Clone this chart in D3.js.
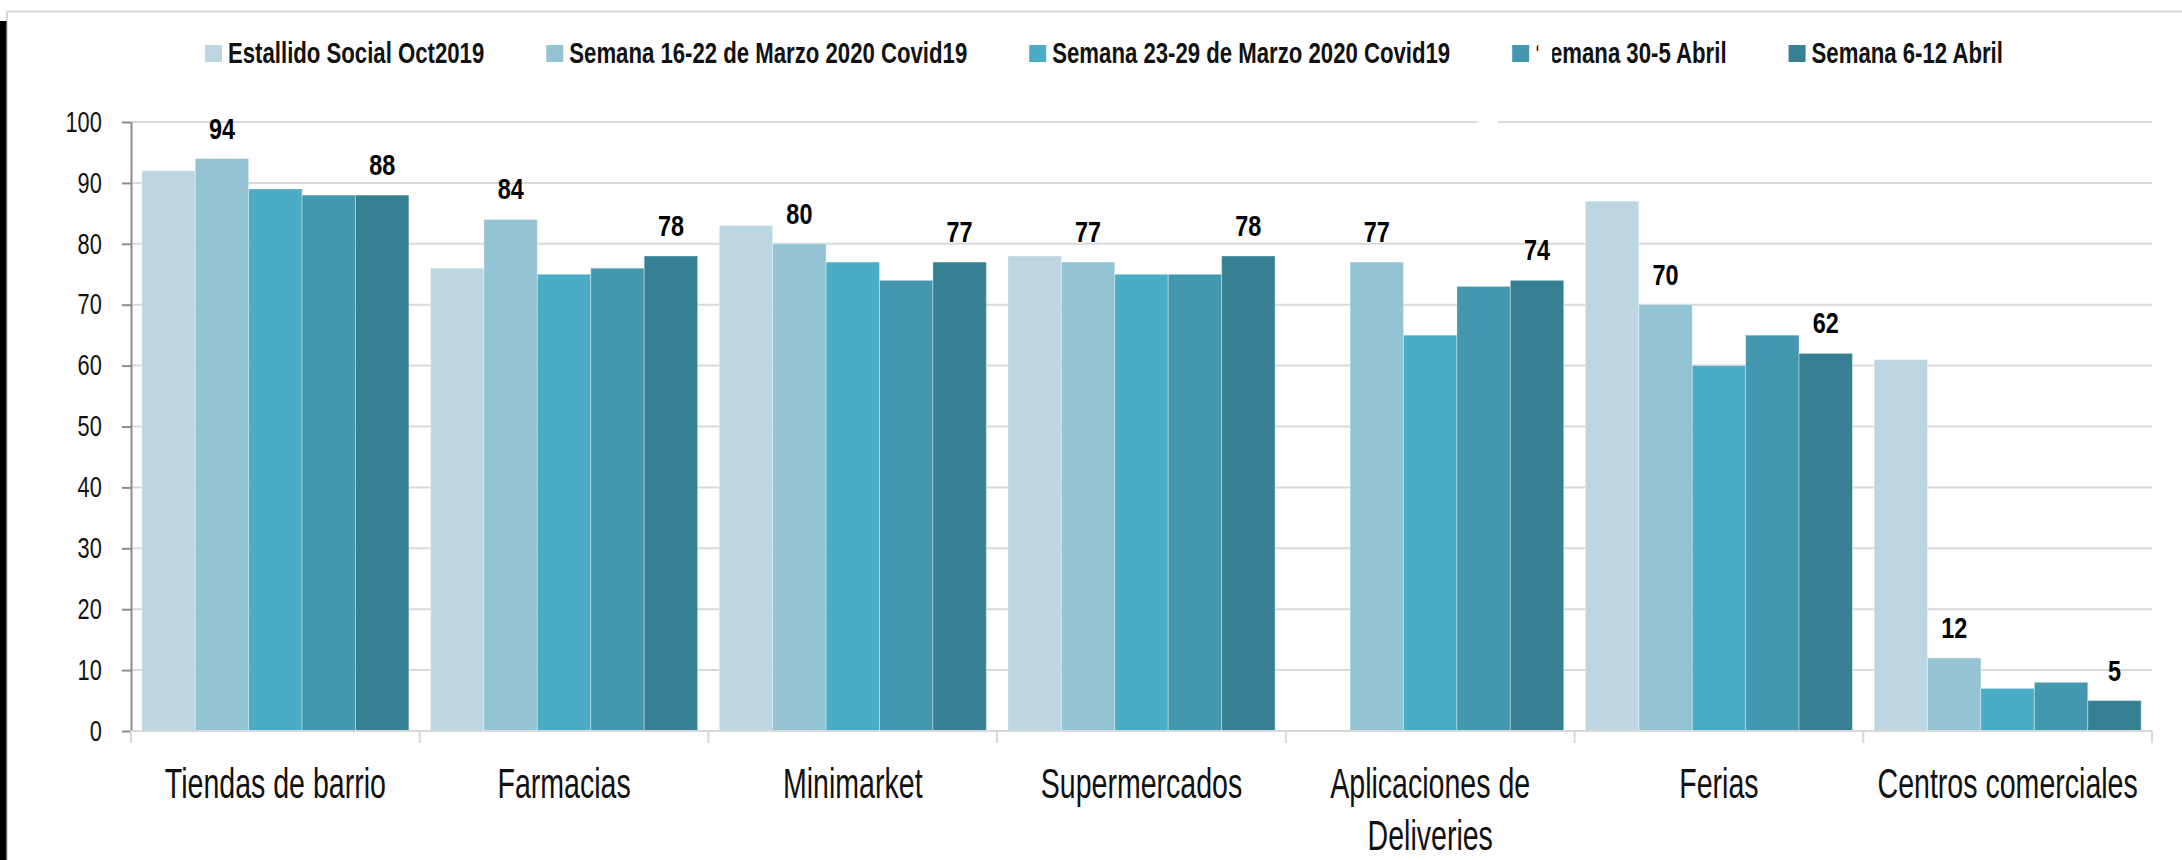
<!DOCTYPE html>
<head>
<meta charset="utf-8">
<script src="https://d3js.org/d3.v7.min.js"></script>
<style>
  body { margin: 0; background: #fff; }
  svg { display: block; }
  text { font-family: "Liberation Sans Narrow", "Liberation Sans", Arial, sans-serif; fill: #111; }
  .legend text { font-weight: bold; font-size: 29px; }
  .value { font-weight: bold; font-size: 30px; text-anchor: middle; fill: #000; }
  .yaxis text { font-size: 29px; }
  .cat text { font-size: 42px; }
</style>
</head>
<body>
<div id="chart"></div>
<script>
// data
var categories = ["Tiendas de barrio", "Farmacias", "Minimarket", "Supermercados",
                  "Aplicaciones de Deliveries", "Ferias", "Centros comerciales"];
var seriesNames = ["Estallido Social Oct2019", "Semana 16-22 de Marzo 2020 Covid19",
                   "Semana 23-29 de Marzo 2020 Covid19", "Semana 30-5 Abril", "Semana 6-12 Abril"];
var estallido  = [92, 76, 83, 78, null, 87, 61];
var semana1622 = [94, 84, 80, 77, 77, 70, 12];
var semana2329 = [89, 75, 77, 75, 65, 60, 7];
var semana305  = [88, 76, 74, 75, 73, 65, 8];
var semana612  = [88, 78, 77, 78, 74, 62, 5];
var yTicks = [0, 10, 20, 30, 40, 50, 60, 70, 80, 90, 100];
var labelledSeries = [1, 4];   // only these series carry value labels

var seriesValues = [estallido, semana1622, semana2329, semana305, semana612];
var colors = ["#bdd7e2", "#94c3d4", "#4bacc6", "#4398b0", "#378094"];

var width = 2182, height = 860;
var plotLeft = 131, plotRight = 2152, plotTop = 122, plotBottom = 731;

// the source font is a condensed face; squeeze the installed sans horizontally
var sxLegend = 0.765, sxValue = 0.78, sxY = 0.75, sxCat = 0.68;

var svg = d3.select("#chart").append("svg")
    .attr("width", width)
    .attr("height", height);

// frame and the black strip on the left
svg.append("path")
    .attr("d", "M7,860 V11.5 H" + width)
    .attr("fill", "none")
    .attr("stroke", "#d9d9d9")
    .attr("stroke-width", 2);
svg.append("rect")
    .attr("x", 0).attr("y", 21)
    .attr("width", 6.5).attr("height", height - 21)
    .attr("fill", "#000");

var x0 = d3.scaleBand()
    .domain(categories)
    .range([plotLeft, plotRight])
    .paddingInner(0.075)
    .paddingOuter(0.0375);

var x1 = d3.scaleBand()
    .domain(d3.range(seriesNames.length))
    .range([0, x0.bandwidth()]);

var y = d3.scaleLinear()
    .domain([0, 100])
    .range([plotBottom, plotTop]);

// gridlines
svg.append("g")
    .selectAll("line")
    .data(yTicks)
    .join("line")
    .attr("x1", plotLeft).attr("x2", plotRight)
    .attr("y1", function (d) { return y(d); })
    .attr("y2", function (d) { return y(d); })
    .attr("stroke", "#d9d9d9")
    .attr("stroke-width", 2);

// small break in the top gridline, as in the source image
svg.append("rect")
    .attr("x", 1477).attr("y", y(100) - 4)
    .attr("width", 21).attr("height", 8)
    .attr("fill", "#fff");

// bars
var rows = categories.map(function (c, i) {
    return { cat: c, vals: seriesValues.map(function (s) { return s[i]; }) };
});

var groups = svg.append("g")
    .selectAll("g")
    .data(rows)
    .join("g")
    .attr("transform", function (d) { return "translate(" + x0(d.cat) + ",0)"; });

groups.selectAll("rect")
    .data(function (d) {
        return d.vals.map(function (v, k) { return { k: k, v: v }; })
            .filter(function (e) { return e.v != null; });
    })
    .join("rect")
    .attr("x", function (d) { return x1(d.k); })
    .attr("y", function (d) { return y(d.v); })
    .attr("width", x1.bandwidth())
    .attr("height", function (d) { return y(0) - y(d.v); })
    .attr("fill", function (d) { return colors[d.k]; })
    .attr("stroke", "#fff")
    .attr("stroke-opacity", 0.35)
    .attr("stroke-width", 1);

groups.selectAll("text.value")
    .data(function (d) {
        return labelledSeries.map(function (k) { return { k: k, v: d.vals[k] }; });
    })
    .join("text")
    .attr("class", "value")
    .attr("transform", function (d) {
        return "translate(" + (x1(d.k) + x1.bandwidth() / 2) + "," + (y(d.v) - 20) + ") scale(" + sxValue + ",1)";
    })
    .text(function (d) { return d.v; });

// y axis
var yAxis = d3.axisLeft(y)
    .tickValues(yTicks)
    .tickSize(9)
    .tickSizeOuter(0)
    .tickPadding(30);

var ya = svg.append("g")
    .attr("class", "yaxis")
    .attr("transform", "translate(" + plotLeft + ",0)")
    .call(yAxis);
ya.select(".domain").attr("stroke", "#8c8c8c").attr("stroke-width", 2);
ya.selectAll(".tick line").attr("stroke", "#8c8c8c").attr("stroke-width", 2);
ya.selectAll(".tick text")
    .attr("fill", "#111")
    .attr("transform", "scale(" + sxY + ",1)");

// x axis line and category boundary ticks
var bounds = d3.range(categories.length + 1).map(function (i) { return plotLeft + i * x0.step(); });
svg.append("line")
    .attr("x1", plotLeft).attr("x2", plotRight)
    .attr("y1", plotBottom).attr("y2", plotBottom)
    .attr("stroke", "#d9d9d9").attr("stroke-width", 2);
svg.append("g")
    .selectAll("line")
    .data(bounds)
    .join("line")
    .attr("x1", function (d) { return d; })
    .attr("x2", function (d) { return d; })
    .attr("y1", plotBottom).attr("y2", plotBottom + 12)
    .attr("stroke", "#d9d9d9").attr("stroke-width", 2);

// category labels, wrapped when wider than a band step
var xAxis = d3.axisBottom(x0).tickSize(0).tickPadding(0);
var xa = svg.append("g")
    .attr("class", "cat")
    .attr("transform", "translate(0," + plotBottom + ")")
    .call(xAxis);
xa.select(".domain").remove();
xa.selectAll(".tick text").each(function (d) {
    var t = d3.select(this);
    t.text(null).attr("y", 0).attr("dy", null)
        .attr("transform", "scale(" + sxCat + ",1)")
        .attr("fill", "#111");
    var words = d.split(" "), line = [], lines = [];
    var probe = t.append("tspan");
    words.forEach(function (w) {
        line.push(w);
        probe.text(line.join(" "));
        if (probe.node().getComputedTextLength() * sxCat > x0.step() && line.length > 1) {
            line.pop();
            lines.push(line.join(" "));
            line = [w];
        }
    });
    lines.push(line.join(" "));
    probe.remove();
    lines.forEach(function (l, i) {
        t.append("tspan").attr("x", 0).attr("y", 67 + i * 52).text(l);
    });
});

// legend
var legend = svg.append("g").attr("class", "legend");
var lx = 205;
seriesNames.forEach(function (name, k) {
    var g = legend.append("g");
    g.append("rect")
        .attr("x", lx).attr("y", 45)
        .attr("width", 17).attr("height", 17)
        .attr("fill", colors[k]);
    var t = g.append("text")
        .attr("transform", "translate(" + (lx + 23) + ",63) scale(" + sxLegend + ",1)")
        .text(name);
    var w = t.node().getComputedTextLength() * sxLegend;
    if (k === 3) {
        // part of this label's first letter is hidden in the original
        g.append("rect").attr("x", lx + 26).attr("y", 35).attr("width", 14).attr("height", 32).attr("fill", "#fff");
        g.append("rect").attr("x", lx + 22).attr("y", 51).attr("width", 6).attr("height", 16).attr("fill", "#fff");
    }
    lx += 23 + w + 62;
});
</script>
</body>
